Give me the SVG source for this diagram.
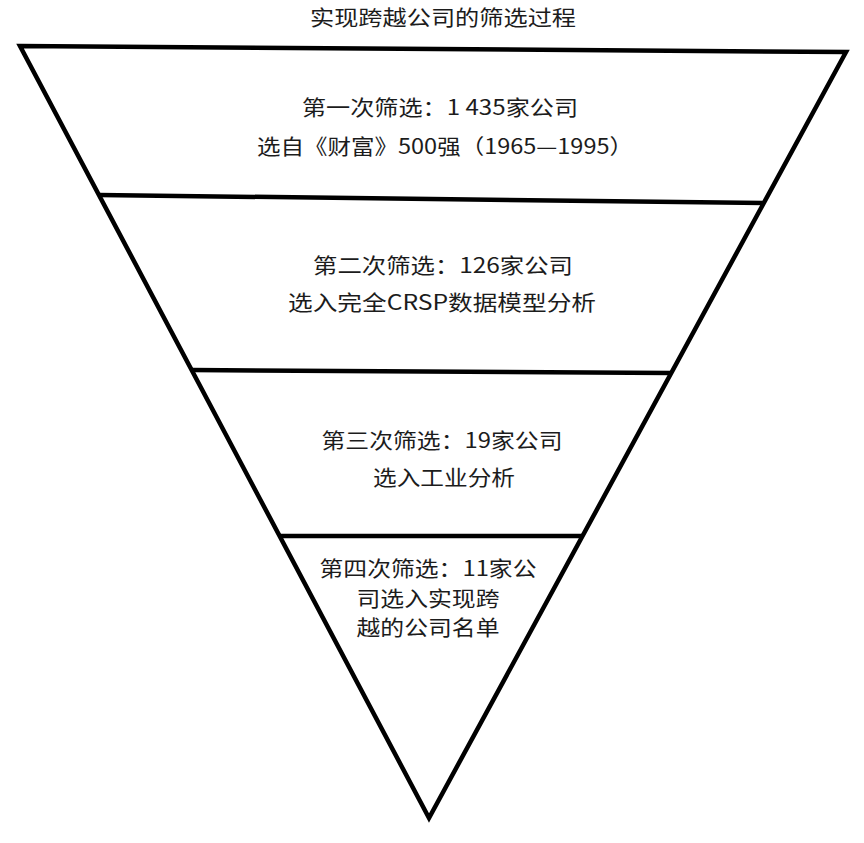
<svg xmlns="http://www.w3.org/2000/svg" width="864" height="843" viewBox="0 0 864 843">
<style>
  .bg{fill:#ffffff}
  .tier{fill:#ffffff;stroke:none}
  .edge{fill:none;stroke:#000;stroke-width:4.5;stroke-linejoin:miter;stroke-linecap:square}
  .sep{stroke:#000;stroke-width:4.5;stroke-linecap:butt}
  .t{font-family:"Noto Sans CJK SC","Liberation Serif",serif;font-size:21px;fill:#1c1c1c;text-anchor:middle}
</style>
<rect class="bg" x="0" y="0" width="864" height="843"/>
<g id="title">
  <text class="t" x="443" y="25" textLength="266" lengthAdjust="spacingAndGlyphs">实现跨越公司的筛选过程</text>
</g>
<g id="tier1">
  <polygon class="tier" points="20,46 846,52 764,203 99,195"/>
  <text class="t" x="440" y="115" textLength="276" lengthAdjust="spacingAndGlyphs">第一次筛选：1 435家公司</text>
  <text class="t" x="445" y="154" textLength="376" lengthAdjust="spacingAndGlyphs">选自《财富》500强（1965—1995）</text>
</g>
<g id="tier2">
  <text class="t" x="443" y="273" textLength="260" lengthAdjust="spacingAndGlyphs">第二次筛选：126家公司</text>
  <text class="t" x="442" y="310" textLength="308" lengthAdjust="spacingAndGlyphs">选入完全CRSP数据模型分析</text>
</g>
<g id="tier3">
  <text class="t" x="442" y="448" textLength="241" lengthAdjust="spacingAndGlyphs">第三次筛选：19家公司</text>
  <text class="t" x="444" y="485" textLength="142" lengthAdjust="spacingAndGlyphs">选入工业分析</text>
</g>
<g id="tier4">
  <text class="t" x="428" y="576" textLength="217" lengthAdjust="spacingAndGlyphs">第四次筛选：11家公</text>
  <text class="t" x="428" y="606" textLength="143" lengthAdjust="spacingAndGlyphs">司选入实现跨</text>
  <text class="t" x="428" y="635" textLength="143" lengthAdjust="spacingAndGlyphs">越的公司名单</text>
</g>
<g id="connectors">
  <polygon class="edge" points="20,46 846,52 429,818"/>
  <line class="sep" x1="99" y1="195" x2="764" y2="203"/>
  <line class="sep" x1="192" y1="370" x2="671" y2="373"/>
  <line class="sep" x1="280" y1="536" x2="582" y2="536"/>
</g>
</svg>
